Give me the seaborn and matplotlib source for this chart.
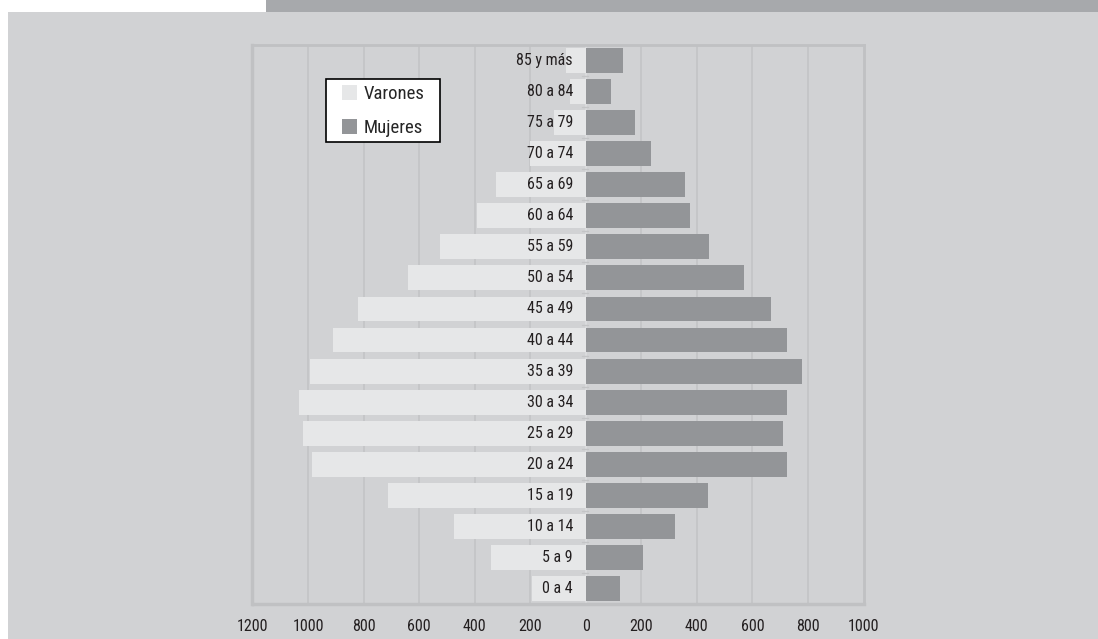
import matplotlib
matplotlib.use("Agg")
import matplotlib.pyplot as plt
from matplotlib.patches import Rectangle, Patch
from matplotlib.legend_handler import HandlerPatch
import seaborn as sns
import pandas as pd
from matplotlib import font_manager

age_groups = ["85 y más", "80 a 84", "75 a 79", "70 a 74", "65 a 69", "60 a 64",
              "55 a 59", "50 a 54", "45 a 49", "40 a 44", "35 a 39", "30 a 34",
              "25 a 29", "20 a 24", "15 a 19", "10 a 14", "5 a 9", "0 a 4"]
varones = [71, 56, 113, 200, 322, 391, 524, 640, 820, 910, 993, 1032,
           1018, 986, 712, 476, 342, 194]
mujeres = [134, 92, 178, 235, 358, 376, 445, 569, 667, 725, 780, 725,
           711, 725, 441, 322, 207, 123]
xticks = [-1200, -1000, -800, -600, -400, -200, 0, 200, 400, 600, 800, 1000]

BG = "#d1d2d4"
LIGHT = "#e6e7e8"
DARK = "#939598"
GRID = "#c3c4c6"

sns.set_theme(style="white")
names = {f.name for f in font_manager.fontManager.ttflist}
fam = [f for f in ["Liberation Sans Narrow", "Roboto Condensed", "Open Sans Condensed"] if f in names]
plt.rcParams["font.family"] = fam + ["DejaVu Sans"]

df = pd.DataFrame({"grupo": age_groups,
                   "Varones": [-v for v in varones],
                   "Mujeres": mujeres})

fig = plt.figure(figsize=(10.98, 6.39), dpi=100, facecolor="white")
fig.patches.append(Rectangle((8 / 1098, 0), 1, 627 / 639, transform=fig.transFigure,
                             facecolor=BG, edgecolor="none", zorder=-10))
fig.patches.append(Rectangle((266 / 1098, 627 / 639), 1, 1, transform=fig.transFigure,
                             facecolor="#a7a9ac", edgecolor="none", zorder=-10))

ax = fig.add_axes([252.5 / 1098, 35 / 639, 611 / 1098, 559 / 639])
ax.set_facecolor(BG)
ax.patch.set_alpha(0)

sns.barplot(data=df, y="grupo", x="Varones", order=age_groups, color=LIGHT,
            saturation=1, width=0.8, orient="h", ax=ax, zorder=3,
            linewidth=0, edgecolor="none")
sns.barplot(data=df, y="grupo", x="Mujeres", order=age_groups, color=DARK,
            saturation=1, width=0.8, orient="h", ax=ax, zorder=3,
            linewidth=0, edgecolor="none")

ax.set_xlim(-1200, 1000)
ax.set_ylim(len(age_groups) - 0.5, -0.5)
ax.set_xticks(xticks)
ax.set_xticklabels([str(abs(t)) for t in xticks], fontsize=11.5, color="#231f20")
ax.tick_params(axis="x", length=0, pad=11)
ax.set_yticks([])
ax.set_xlabel("")
ax.set_ylabel("")

for t in xticks[1:-1]:
    if t != 0:
        ax.axvline(t, color=GRID, lw=1.2, zorder=1)
ax.axvline(0, color="#dcdddf", lw=1.2, zorder=2)
for i in range(len(age_groups) - 1):
    ax.plot([-14, 8], [i + 0.5, i + 0.5], color="#c3c4c6", lw=1, zorder=2)

for sp in ["left", "right", "top", "bottom"]:
    ax.spines[sp].set_color("#c0c1c3")
ax.spines["left"].set_linewidth(2.5)
ax.spines["bottom"].set_linewidth(2.5)
ax.spines["right"].set_linewidth(2)
ax.spines["top"].set_linewidth(2)

for i, g in enumerate(age_groups):
    ax.text(-46, i, g, ha="right", va="center", fontsize=11.5, color="#231f20", zorder=5)


def square_right(legend, orig_handle, xdescent, ydescent, width, height, fontsize):
    return Rectangle((-xdescent + width - height, -ydescent), height, height)


handles = [Patch(facecolor=LIGHT, edgecolor="none", label="Varones"),
           Patch(facecolor=DARK, edgecolor="none", label="Mujeres")]
leg = fig.legend(handles=handles, loc="upper left",
                 bbox_to_anchor=(326 / 1098, 1 - 142 / 639, 114 / 1098, 63 / 639),
                 mode="expand",
                 handler_map={Patch: HandlerPatch(patch_func=square_right)},
                 fontsize=13.5, frameon=True, fancybox=False, framealpha=1,
                 edgecolor="black", facecolor="white", handlelength=1.35,
                 handleheight=0.85, labelspacing=0.85, handletextpad=0.35,
                 borderpad=0.3, borderaxespad=0)
leg.get_frame().set_linewidth(1.2)
leg.set_zorder(10)

fig.savefig("out.png", dpi=100, facecolor="white")
